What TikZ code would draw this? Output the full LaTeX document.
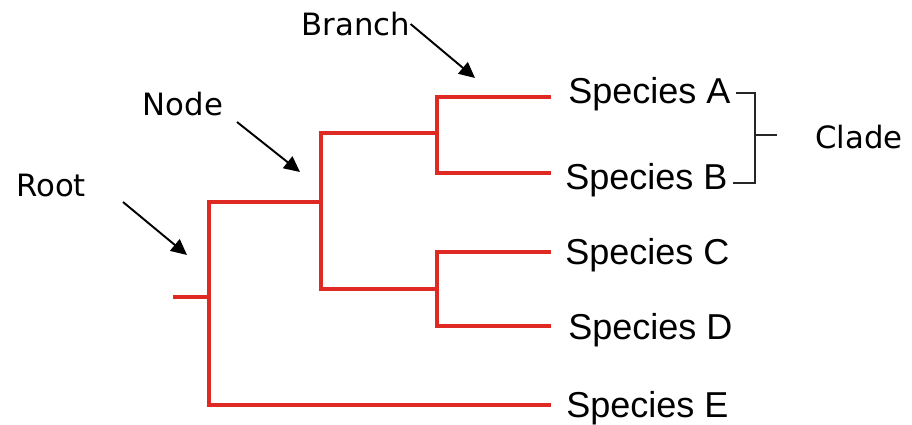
\documentclass[tikz,border=0pt]{standalone}
\usepackage{fontspec}
\setmainfont{DejaVu Sans}
\newfontfamily\speciesfont{Liberation Sans}
\usetikzlibrary{arrows.meta, positioning}
\definecolor{TreeRed}{RGB}{222, 42, 34}
\tikzset{
  branch/.style={draw=TreeRed, line width=2.6pt},
  pointer/.style={-{Triangle[length=9pt, width=8.5pt]}, line width=1.1pt},
  bracket/.style={draw=black!85, line width=0.6pt},
  species/.style={anchor=base west, inner sep=0pt,
                  font=\fontsize{20.5}{23}\selectfont\speciesfont},
  tag/.style={inner sep=0pt, font=\fontsize{17.5}{20}\selectfont},
}

\begin{document}
\begin{tikzpicture}[x=0.02cm, y=-0.02cm]
  \useasboundingbox (0,0) rectangle (912,424);

  % junctions of the tree
  \coordinate (stub) at (173,297);
  \coordinate (root) at (209,297);
  \coordinate (inner) at (321,202);
  \coordinate (ab) at (437,133);
  \coordinate (cd) at (437,289);

  % leaf tips
  \coordinate (tipA) at (551,97);
  \coordinate (tipB) at (551,173);
  \coordinate (tipC) at (551,252);
  \coordinate (tipD) at (551,326);
  \coordinate (tipE) at (551,405);

  \node[species] (spA) at (568,103) {Species A};
  \node[species] (spB) at (565,189) {Species B};
  \node[species] (spC) at (565,264) {Species C};
  \node[species] (spD) at (568,339) {Species D};
  \node[species] (spE) at (566,417) {Species E};

  % branches
  \draw[branch] (stub) -- (root);
  \draw[branch] (inner) -| (root |- tipE) -- (tipE);
  \draw[branch] (ab) -| (inner |- cd) -- (cd);
  \draw[branch] (tipA) -| (ab) |- (tipB);
  \draw[branch] (tipC) -| (cd) |- (tipD);

  % clade bracket
  \coordinate (cladetop) at (755,93);
  \coordinate (cladebot) at (755,183);
  \coordinate (cladetick) at (777,135);
  \draw[bracket] ([xshift=3pt]spA.east |- cladetop) -- (cladetop) -- (cladebot)
    -- ([xshift=3pt]spB.east |- cladebot);
  \draw[bracket] (cladetop |- cladetick) -- (cladetick);
  \node[tag, anchor=west] (clade) at (815,137) {Clade};

  % labels with pointers
  \node[tag] (branchtxt) at (356,24) {Branch};
  \node[tag] (nodetxt) at (183,104) {Node};
  \node[tag] (roottxt) at (51,185) {Root};
  \coordinate (branchtip) at (475,78);
  \coordinate (nodetip) at (300,172);
  \coordinate (roottip) at (187,255);
  \draw[pointer] (branchtxt.east) -- (branchtip);
  \draw[pointer] (237,122) -- (nodetip);
  \draw[pointer] (123,202) -- (roottip);
\end{tikzpicture}
\end{document}
